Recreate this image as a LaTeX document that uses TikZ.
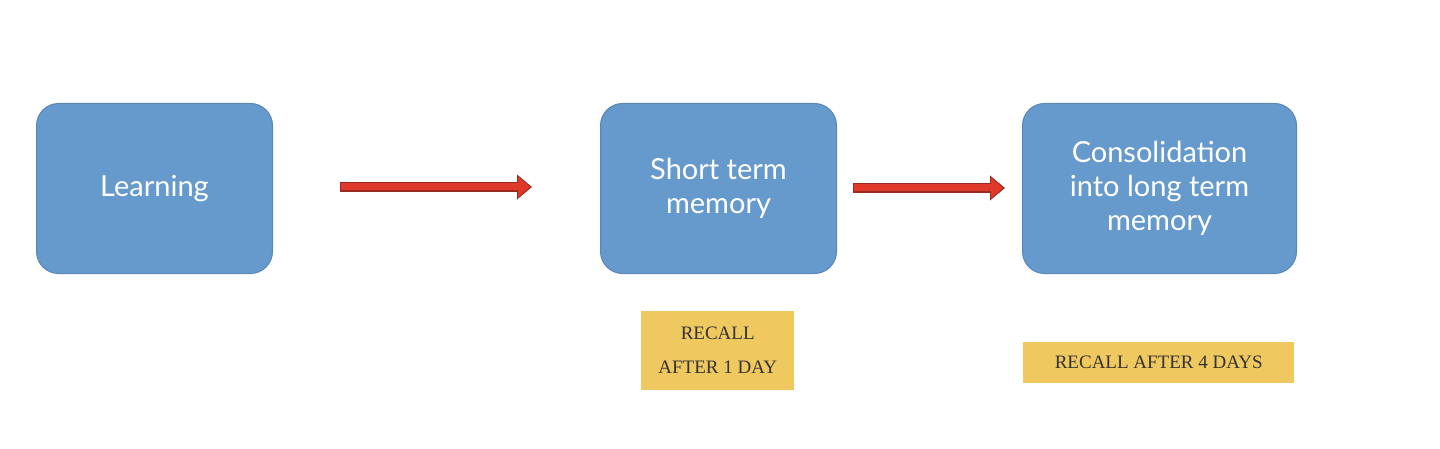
\documentclass[tikz,border=0pt]{standalone}
\usepackage{fontspec}
\setmainfont{Lato}
\newfontfamily\serifl{Liberation Serif}
\usetikzlibrary{arrows.meta}
\definecolor{boxblue}{HTML}{6699CC}
\definecolor{boxedge}{HTML}{5A86B8}
\definecolor{arrred}{HTML}{E0382A}
\definecolor{arredge}{HTML}{9A2A20}
\definecolor{lblyel}{HTML}{F0C860}
\tikzset{
  bluebox/.style={draw=boxedge, line width=1pt, fill=boxblue, rounded corners=22pt, text=white, font=\fontsize{29}{34}\selectfont, align=center, inner sep=0pt, anchor=north west},
  yelbox/.style={fill=lblyel, font=\serifl\fontsize{19}{34}\selectfont, align=center, inner sep=0pt, anchor=north west, text=black!80},
  redarrow/.style={draw=arredge, line width=8pt, -{Triangle[length=14pt,width=22pt]}, shorten >=0pt},
}
\begin{document}
\begin{tikzpicture}[x=1pt,y=-1pt]
\useasboundingbox (0,0) rectangle (1440,449);
\node[bluebox, minimum width=236pt, minimum height=170pt] (learn) at (36,103) {Learning};
\node[bluebox, minimum width=236pt, minimum height=170pt] (stm) at (600,103) {Short term\\memory};
\node[bluebox, minimum width=274pt, minimum height=170pt] (ltm) at (1022,103) {Consolidation\\into long term\\memory};
\coordinate (a1s) at (340,187); \coordinate (a1e) at (532,187);
\coordinate (a2s) at (853,188); \coordinate (a2e) at (1005,188);
\draw[draw=arredge, line width=10pt, -{Triangle[length=15pt,width=24pt]}] (a1s) -- (a1e);
\draw[draw=arrred, line width=7pt, -{Triangle[length=12pt,width=20pt]}] ([xshift=1pt]a1s) -- ([xshift=-2pt]a1e);
\draw[draw=arredge, line width=10pt, -{Triangle[length=15pt,width=24pt]}] (a2s) -- (a2e);
\draw[draw=arrred, line width=7pt, -{Triangle[length=12pt,width=20pt]}] ([xshift=1pt]a2s) -- ([xshift=-2pt]a2e);
\node[yelbox, minimum width=153pt, minimum height=79pt] (r1) at (641,311) {RECALL\\AFTER 1 DAY};
\node[yelbox, minimum width=271pt, minimum height=41pt] (r2) at (1023,342) {RECALL AFTER 4 DAYS};
\end{tikzpicture}
\end{document}
